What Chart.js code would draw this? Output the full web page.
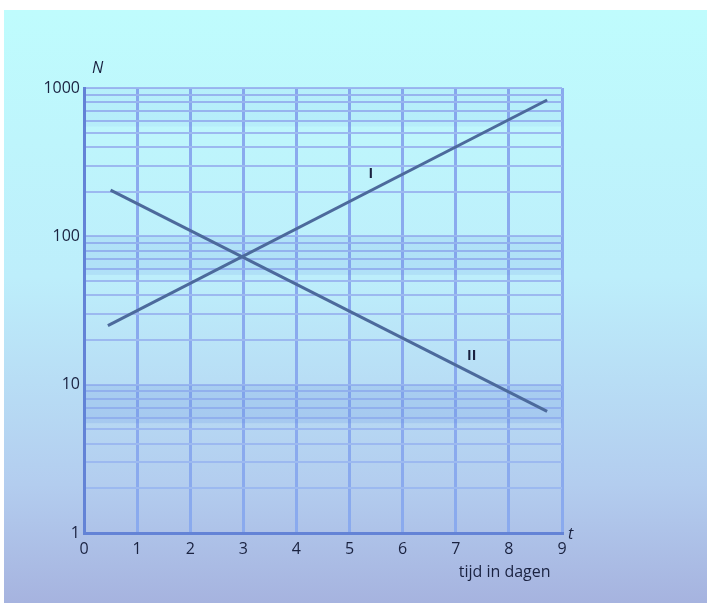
<!DOCTYPE html>
<html>
<head>
<meta charset="utf-8">
<script src="https://cdn.jsdelivr.net/npm/chart.js@4"></script>
<style>
  html, body { margin: 0; padding: 0; background: #ffffff; }
  #wrap { width: 707px; height: 603px; }
</style>
</head>
<body>
<div id="wrap"><canvas id="grafica" width="707" height="603"></canvas></div>
<script>
// datos (escala logaritmica en N)
const tiempoI = [0.45, 8.72];
const valoresI = [25, 830];
const tiempoII = [0.5, 8.72];
const valoresII = [205, 6.6];

const ticksX = [0, 1, 2, 3, 4, 5, 6, 7, 8, 9];
const decadas = [1, 10, 100, 1000];
const ticksY = [];
for (let d of [1, 10, 100]) {
  for (let m = 1; m < 10; m++) ticksY.push(d * m);
}
ticksY.push(1000);

// fondo tipo foto: borde blanco y degradado celeste
const fondo = {
  id: 'fondo',
  beforeDraw(chart) {
    const ctx = chart.ctx;
    ctx.save();
    ctx.fillStyle = '#ffffff';
    ctx.fillRect(0, 0, chart.width, chart.height);
    const g = ctx.createLinearGradient(0, 10, 0, chart.height);
    g.addColorStop(0, '#bffcfd');
    g.addColorStop(0.45, '#bdeefb');
    g.addColorStop(0.8, '#b3cdef');
    g.addColorStop(1, '#a6b3df');
    ctx.fillStyle = g;
    ctx.fillRect(4, 10, chart.width - 4, chart.height - 10);
    ctx.restore();
  }
};

// franjas mas oscuras en la parte alta de cada decada (papel semilog)
const franjas = {
  id: 'franjas',
  beforeDatasetsDraw(chart) {
    const ctx = chart.ctx;
    const y = chart.scales.y;
    const a = chart.chartArea;
    const alfas = [0.16, 0.13, 0.07];
    ctx.save();
    [1, 10, 100].forEach((d, i) => {
      const y1 = y.getPixelForValue(d * 10);
      const y2 = y.getPixelForValue(d * 5.5);
      ctx.fillStyle = `rgba(90, 130, 225, ${alfas[i]})`;
      ctx.fillRect(a.left, y1, a.right - a.left, y2 - y1);
    });
    ctx.restore();
  }
};

// textos sueltos: N, t, tijd in dagen y las etiquetas I / II
const textos = {
  id: 'textos',
  afterDraw(chart) {
    const ctx = chart.ctx;
    const x = chart.scales.x, y = chart.scales.y;
    const a = chart.chartArea;
    ctx.save();
    ctx.fillStyle = '#1a2240';
    ctx.textBaseline = 'middle';
    ctx.font = 'italic 16px "Open Sans", sans-serif';
    ctx.textAlign = 'left';
    ctx.fillText('N', a.left + 8, a.top - 20);
    ctx.fillText('t', a.right + 6, a.bottom + 1);
    ctx.font = '16px "Open Sans", sans-serif';
    ctx.textAlign = 'center';
    ctx.fillText('tijd in dagen', x.getPixelForValue(7.92), a.bottom + 39);
    ctx.font = 'bold 14px "Open Sans", sans-serif';
    ctx.fillText('I', x.getPixelForValue(5.4), y.getPixelForValue(265));
    ctx.fillText('II', x.getPixelForValue(7.3), y.getPixelForValue(15.5));
    ctx.restore();
  }
};

const ctx = document.getElementById('grafica').getContext('2d');
new Chart(ctx, {
  type: 'line',
  data: {
    datasets: [
      {
        label: 'I',
        data: tiempoI.map((t, i) => ({ x: t, y: valoresI[i] })),
        borderColor: '#4c6a9c',
        borderWidth: 3,
        pointRadius: 0,
        fill: false
      },
      {
        label: 'II',
        data: tiempoII.map((t, i) => ({ x: t, y: valoresII[i] })),
        borderColor: '#4c6a9c',
        borderWidth: 3,
        pointRadius: 0,
        fill: false
      }
    ]
  },
  options: {
    responsive: false,
    animation: false,
    layout: { padding: { left: 0, right: 145, top: 88, bottom: 0 } },
    plugins: {
      legend: { display: false },
      tooltip: { enabled: false }
    },
    scales: {
      x: {
        type: 'linear',
        min: 0,
        max: 9,
        afterBuildTicks: s => { s.ticks = ticksX.map(v => ({ value: v })); },
        afterFit: s => { s.height = 70; },
        grid: { color: '#8aaaee', lineWidth: 3, drawTicks: false },
        border: { color: '#6383d6', width: 3 },
        ticks: {
          padding: 7,
          color: '#1a2240',
          font: { family: '"Open Sans", sans-serif', size: 16 },
          callback: v => String(v)
        }
      },
      y: {
        type: 'logarithmic',
        min: 1,
        max: 1000,
        afterBuildTicks: s => { s.ticks = ticksY.map(v => ({ value: v })); },
        afterFit: s => { s.width = 84; },
        grid: { color: '#9cb9f0', lineWidth: 2, drawTicks: false },
        border: { color: '#6383d6', width: 3 },
        ticks: {
          autoSkip: false,
          padding: 4,
          color: '#1a2240',
          font: { family: '"Open Sans", sans-serif', size: 16 },
          callback: v => decadas.includes(v) ? String(v) : ''
        }
      }
    }
  },
  plugins: [fondo, franjas, textos]
});
</script>
</body>
</html>
